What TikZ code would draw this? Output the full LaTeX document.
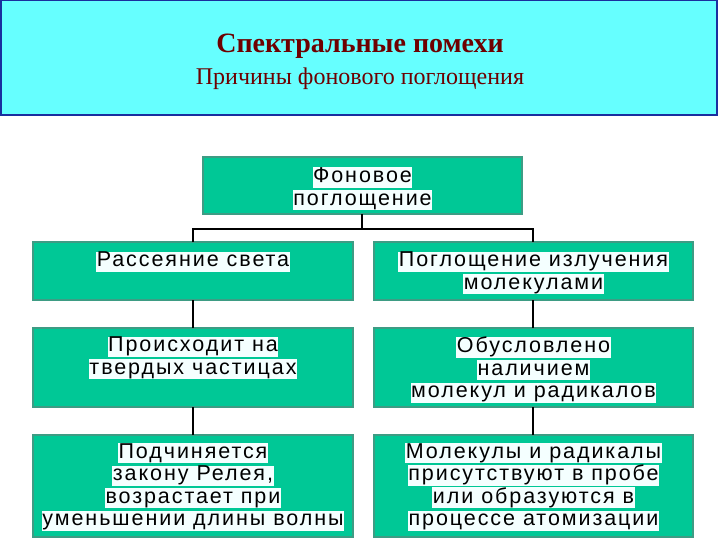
\documentclass[tikz,border=0pt]{standalone}
\usepackage{fontspec}
\setmainfont{Liberation Serif}
\setsansfont{Liberation Sans}[LetterSpace=9]
\definecolor{hdrfill}{HTML}{66FFFF}
\definecolor{hdredge}{HTML}{1A2F9E}
\definecolor{titlered}{HTML}{6E0000}
\definecolor{boxfill}{HTML}{00C896}
\definecolor{boxedge}{HTML}{3E9C84}
\definecolor{hlc}{HTML}{F4FFFF}
\newcommand{\hlline}[1]{{\setlength{\fboxsep}{0.5pt}\colorbox{hlc}{\rule[-4.5pt]{0pt}{19pt}#1}}}
\tikzset{
  x=1pt, y=-1pt,
  box/.style={draw=boxedge, line width=1.5pt, fill=boxfill},
  txt/.style={anchor=north, align=center, inner sep=0pt, font=\sffamily\fontsize{21.5}{22.5}\selectfont},
  conn/.style={draw=black, line width=2pt}
}
\begin{document}
\begin{tikzpicture}
\useasboundingbox (0,0) rectangle (720,540);
% header
\draw[draw=hdredge, line width=1.5pt, fill=hdrfill] (0.75,0.75) rectangle (717,115);
\node[anchor=base, inner sep=0pt, text=titlered, font=\bfseries\fontsize{28}{30}\selectfont] (title) at (360,53) {Спектральные помехи};
\node[anchor=base, inner sep=0pt, text=titlered, font=\fontsize{24}{26}\selectfont] (subtitle) at (360,85) {Причины фонового поглощения};
% boxes
\path[box] (203,157) rectangle (522,214);
\coordinate (topb) at (362,214);
\node[txt] (t0) at (362.5,167) {\hlline{Фоновое}\\\hlline{поглощение}};

\path[box] (33,242) rectangle (353,300);
\path[box] (374,242) rectangle (693,300);
\path[box] (33,328) rectangle (353,407);
\path[box] (374,328) rectangle (693,407);
\path[box] (33,435) rectangle (353,537);
\path[box] (374,435) rectangle (693,537);

\coordinate (l1t) at (193,242); \coordinate (l1b) at (193,300);
\coordinate (r1t) at (533,242); \coordinate (r1b) at (533,300);
\coordinate (l2t) at (193,328); \coordinate (l2b) at (193,407);
\coordinate (r2t) at (533,328); \coordinate (r2b) at (533,407);
\coordinate (l3t) at (193,435);
\coordinate (r3t) at (533,435);

\node[txt] (l1) at (193,251.5) {\hlline{Рассеяние света}};
\node[txt] (r1) at (533.5,251.5) {\hlline{Поглощение излучения}\\\hlline{молекулами}};
\node[txt] (l2) at (193,336.5) {\hlline{Происходит на}\\\hlline{твердых частицах}};
\node[txt] (r2) at (533.5,336.5) {\hlline{Обусловлено}\\\hlline{наличием}\\\hlline{молекул и радикалов}};
\node[txt] (l3) at (193,443) {\hlline{Подчиняется}\\\hlline{закону Релея,}\\\hlline{возрастает при}\\\hlline{уменьшении длины волны}};
\node[txt] (r3) at (533.5,443) {\hlline{Молекулы и радикалы}\\\hlline{присутствуют в пробе}\\\hlline{или образуются в}\\\hlline{процессе атомизации}};

% connectors
\coordinate (jn) at (362,229);
\draw[conn] (topb) -- (jn);
\draw[conn] (l1t) |- (jn) -| (r1t);
\draw[conn] (l1b) -- (l2t);
\draw[conn] (r1b) -- (r2t);
\draw[conn] (l2b) -- (l3t);
\draw[conn] (r2b) -- (r3t);
\end{tikzpicture}
\end{document}
